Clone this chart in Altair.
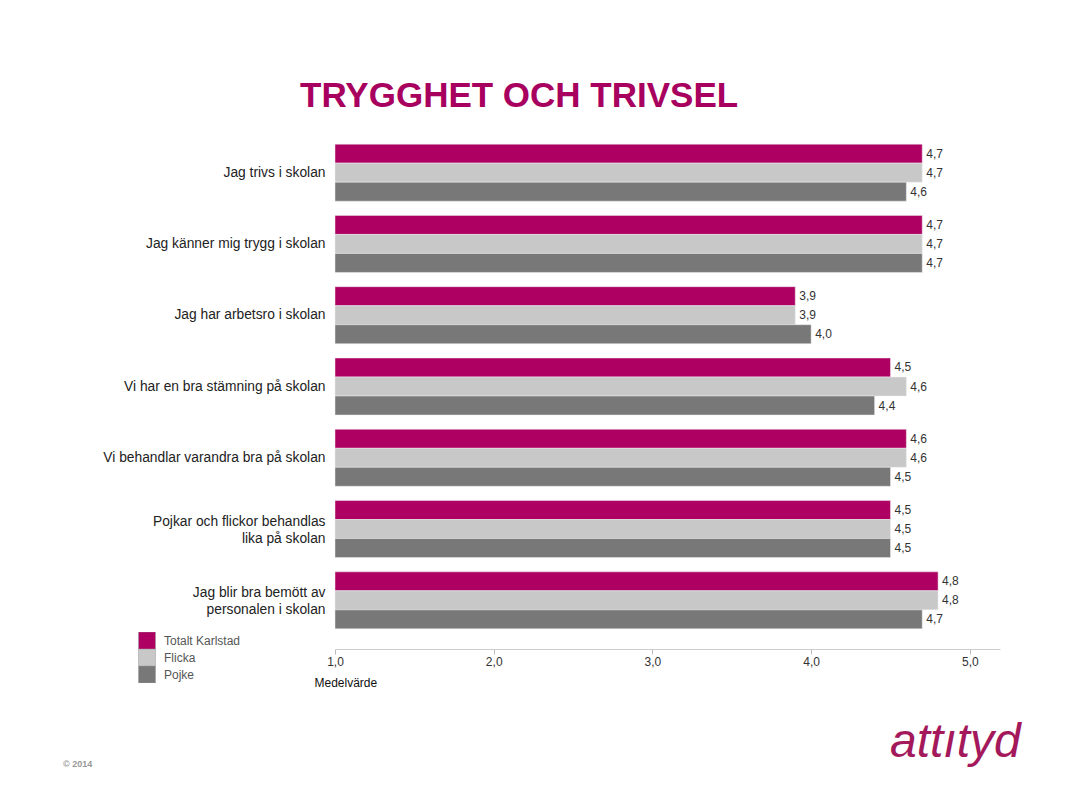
import altair as alt
import pandas as pd

questions = [
    "Jag trivs i skolan",
    "Jag känner mig trygg i skolan",
    "Jag har arbetsro i skolan",
    "Vi har en bra stämning på skolan",
    "Vi behandlar varandra bra på skolan",
    "Pojkar och flickor behandlas|lika på skolan",
    "Jag blir bra bemött av|personalen i skolan",
]
series = ["Totalt Karlstad", "Flicka", "Pojke"]
totalt = [4.7, 4.7, 3.9, 4.5, 4.6, 4.5, 4.8]
flicka = [4.7, 4.7, 3.9, 4.6, 4.6, 4.5, 4.8]
pojke = [4.6, 4.7, 4.0, 4.4, 4.5, 4.5, 4.7]
colors = ["#AE0062", "#C8C8C8", "#787878"]
x_ticks = [1, 2, 3, 4, 5]

rows = []
for i, q in enumerate(questions):
    for s, vals in zip(series, [totalt, flicka, pojke]):
        rows.append({"question": q, "series": s, "value": vals[i], "base": 1.0})
df = pd.DataFrame(rows)

FONT = "Liberation Sans"

y_enc = alt.Y(
    "question:N",
    sort=questions,
    scale=alt.Scale(paddingInner=0.2, paddingOuter=0.1),
    axis=alt.Axis(
        title=None, domain=False, ticks=False, labelPadding=10,
        labelFont=FONT, labelFontSize=13.8, labelColor="#222222",
        labelExpr="split(datum.label, '|')", labelLineHeight=17, labelLimit=300,
        labelOffset={"condition": {"test": "indexof(datum.label, '|') >= 0", "value": -7}, "value": 0},
    ),
)
yoff = alt.YOffset("series:N", sort=series, scale=alt.Scale(paddingInner=0, paddingOuter=0))

x_enc = alt.X(
    "value:Q",
    scale=alt.Scale(domain=[1, 5.19], nice=False, zero=False),
    axis=alt.Axis(
        values=x_ticks, grid=False, offset=13, tickSize=5, tickColor="#BBBBBB",
        domainColor="#CCCCCC", labelFont=FONT, labelFontSize=12, labelColor="#333333",
        labelFlush=False, labelOverlap=False,
        labelPadding=2, labelExpr="replace(format(datum.value, '.1f'), '.', ',')",
        title="Medelvärde", titleFont=FONT, titleFontSize=12, titleFontWeight="normal",
        titleColor="#111111", titleAnchor="start", titleAlign="left",
        titleX=-21, titleY=37, titleBaseline="alphabetic",
    ),
)

bars = alt.Chart(df).mark_bar(stroke="#EEEEEE", strokeWidth=0.5).encode(
    x=x_enc,
    x2="base:Q",
    y=y_enc,
    yOffset=yoff,
    color=alt.Color(
        "series:N", sort=series,
        scale=alt.Scale(domain=series, range=colors),
        legend=alt.Legend(
            title=None, orient="none", legendX=-197, legendY=495,
            symbolType="square", symbolSize=289, symbolStrokeColor="#999999",
            symbolStrokeWidth=0.5, symbolOpacity=1, rowPadding=0, clipHeight=17,
            labelFont=FONT, labelFontSize=12, labelColor="#555555", labelOffset=8,
        ),
    ),
)

labels = alt.Chart(df).transform_calculate(
    lab="replace(format(datum.value, '.1f'), '.', ',')"
).mark_text(align="left", baseline="middle", dx=4, font=FONT, fontSize=12, color="#333333").encode(
    x="value:Q", y=alt.Y("question:N", sort=questions), yOffset=alt.YOffset("series:N", sort=series), text="lab:N"
)

one = alt.Data(values=[{"a": 1}])
title = alt.Chart(one).mark_text(
    text="TRYGGHET OCH TRIVSEL", align="left", baseline="alphabetic",
    font=FONT, fontSize=35, fontWeight="bold", color="#A8005E",
).encode(x=alt.value(-35), y=alt.value(-30))

logo = alt.Chart(one).mark_text(
    text="attıtyd", align="left", baseline="alphabetic",
    font=FONT, fontSize=48, fontStyle="italic", color="#A3195B",
).encode(x=alt.value(555), y=alt.value(620))

copy = alt.Chart(one).mark_text(
    text="© 2014", align="left", baseline="alphabetic",
    font=FONT, fontSize=9, fontWeight="bold", color="#999999",
).encode(x=alt.value(-272), y=alt.value(630))

chart = alt.layer(bars, labels, title, logo, copy).properties(
    width=665, height=499,
    autosize=alt.AutoSizeParams(type="none"),
    padding={"left": 335, "top": 137, "right": 69, "bottom": 165},
    background="white",
).configure_view(stroke=None)

chart.save("out.html", embed_options={"renderer": "svg", "actions": False})
